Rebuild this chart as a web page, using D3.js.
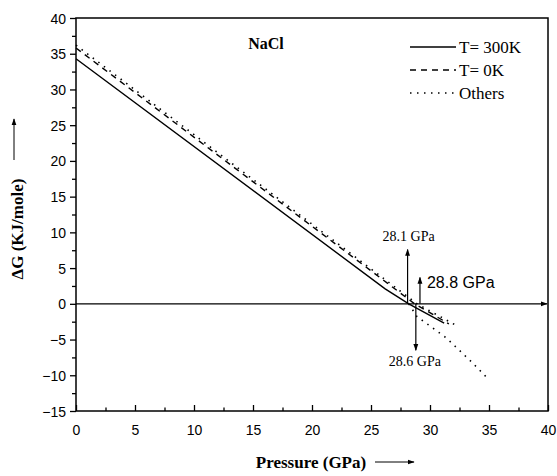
<!DOCTYPE html>
<html>
<head>
<meta charset="utf-8">
<script src="https://cdn.jsdelivr.net/npm/d3@7"></script>
<style>
  body { margin: 0; background: #fff; }
  text { fill: #000; }
</style>
</head>
<body>
<div id="chart"></div>
<script>
// Data (pressure in GPa, dG in KJ/mole)
const solidT300 = [[0, 34.3], [26.2, 2.1], [28.2, 0], [31.2, -2.7]];
const dashedT0 = [[0, 35.8], [28.7, 0], [31.6, -2.8]];
const dottedOthers = [[0, 36.2], [28.9, 0], [32.2, -3.0]];
const dottedSteep = [[28.2, 0], [28.9, -1.8], [30.0, -3.1], [31.4, -4.8], [32.1, -5.9],
  [32.8, -7.0], [33.5, -8.1], [34.1, -9.1], [34.8, -10.3]];

const xTicks = [0, 5, 10, 15, 20, 25, 30, 35, 40];
const yTicks = [40, 35, 30, 25, 20, 15, 10, 5, 0, -5, -10, -15];
const legendLabels = ['T= 300K', 'T= 0K', 'Others'];

// Vertical annotation arrows: x position, arrow tip value, label
const marks = [
  { x: 28.1, to: 7.6, label: '28.1 GPa' },
  { x: 28.8, to: -6.5, label: '28.6 GPa' },
  { x: 29.15, to: 3.7, label: '28.8 GPa' }
];

const W = 557, H = 476;
const m = { left: 76, right: 548, top: 18, bottom: 411 };

const svg = d3.select('#chart').append('svg')
  .attr('width', W).attr('height', H);

const defs = svg.append('defs');
defs.append('marker')
  .attr('id', 'head')
  .attr('viewBox', '0 0 10 10')
  .attr('refX', 9).attr('refY', 5)
  .attr('markerWidth', 7).attr('markerHeight', 7)
  .attr('markerUnits', 'userSpaceOnUse')
  .attr('orient', 'auto')
  .append('path').attr('d', 'M0,1.5 L10,5 L0,8.5 Z').attr('fill', '#000');

const x = d3.scaleLinear().domain([0, 40]).range([m.left, m.right]);
const y = d3.scaleLinear().domain([-15, 40]).range([m.bottom, m.top]);

const serif = '"Liberation Serif", "Times New Roman", serif';
const sans = '"Liberation Sans", Arial, sans-serif';

// Axes (ticks drawn by d3 axis, then styled)
const xAxis = svg.append('g')
  .attr('transform', `translate(0,${m.bottom})`)
  .call(d3.axisBottom(x).tickValues(xTicks).tickSize(-6).tickPadding(14));
const xMinor = svg.append('g')
  .attr('transform', `translate(0,${m.bottom})`)
  .call(d3.axisBottom(x).tickValues(d3.range(2.5, 40, 5)).tickSize(-3.5).tickFormat(''));

const yAxis = svg.append('g')
  .attr('transform', `translate(${m.left},0)`)
  .call(d3.axisLeft(y).tickValues(yTicks).tickSize(6).tickPadding(4));
const yMinor = svg.append('g')
  .attr('transform', `translate(${m.left},0)`)
  .call(d3.axisLeft(y).tickValues(d3.range(-12.5, 40, 5)).tickSize(4).tickFormat(''));

[xAxis, xMinor, yAxis, yMinor].forEach((g) => {
  g.select('.domain').remove();
  g.selectAll('line').attr('stroke', '#000').attr('stroke-width', 1.3);
  g.selectAll('text').attr('font-family', sans).attr('font-size', 14).attr('fill', '#000');
});
yAxis.selectAll('text').attr('dy', '0.36em');

// frame
svg.append('rect')
  .attr('x', m.left).attr('y', m.top)
  .attr('width', m.right - m.left).attr('height', m.bottom - m.top)
  .attr('fill', 'none').attr('stroke', '#000').attr('stroke-width', 1.5);

// zero line with arrow
svg.append('line')
  .attr('x1', x(0)).attr('x2', x(40) - 1)
  .attr('y1', y(0)).attr('y2', y(0))
  .attr('stroke', '#000').attr('stroke-width', 1.2)
  .attr('marker-end', 'url(#head)');

const line = d3.line().x((d) => x(d[0])).y((d) => y(d[1]));

svg.append('path').datum(solidT300)
  .attr('d', line).attr('fill', 'none').attr('stroke', '#000').attr('stroke-width', 1.4);
svg.append('path').datum(dashedT0)
  .attr('d', line).attr('fill', 'none').attr('stroke', '#000').attr('stroke-width', 1.4)
  .attr('stroke-dasharray', '6,5');
svg.append('path').datum(dottedOthers)
  .attr('d', line).attr('fill', 'none').attr('stroke', '#000').attr('stroke-width', 1.6)
  .attr('stroke-dasharray', '1.5,5.5');
svg.append('path').datum(dottedSteep)
  .attr('d', line).attr('fill', 'none').attr('stroke', '#000').attr('stroke-width', 1.6)
  .attr('stroke-dasharray', '1.5,5.5');

// annotation arrows
marks.forEach((mk) => {
  svg.append('line')
    .attr('x1', x(mk.x)).attr('x2', x(mk.x))
    .attr('y1', y(0)).attr('y2', y(mk.to))
    .attr('stroke', '#000').attr('stroke-width', 1.2)
    .attr('marker-end', 'url(#head)');
});
svg.append('text')
  .attr('x', x(28.1) + 1).attr('y', 241)
  .attr('text-anchor', 'middle')
  .attr('font-family', serif).attr('font-size', 14)
  .text(marks[0].label);
svg.append('text')
  .attr('x', x(28.8) - 1).attr('y', 366)
  .attr('text-anchor', 'middle')
  .attr('font-family', serif).attr('font-size', 14)
  .text(marks[1].label);
svg.append('text')
  .attr('x', x(29.15) + 7).attr('y', 288)
  .attr('font-family', sans).attr('font-size', 16)
  .text(marks[2].label);

// title inside
svg.append('text')
  .attr('x', 266).attr('y', 49)
  .attr('text-anchor', 'middle')
  .attr('font-family', serif).attr('font-size', 16).attr('font-weight', 'bold')
  .text('NaCl');

// legend
const dashes = [null, '6,5', '1.5,5.5'];
legendLabels.forEach((lab, i) => {
  const ly = 47 + i * 23;
  svg.append('line')
    .attr('x1', 410).attr('x2', 456).attr('y1', ly).attr('y2', ly)
    .attr('stroke', '#000').attr('stroke-width', i === 2 ? 1.6 : 1.4)
    .attr('stroke-dasharray', dashes[i]);
  svg.append('text')
    .attr('x', 459).attr('y', ly + 6)
    .attr('font-family', serif).attr('font-size', 17)
    .text(lab);
});

// axis titles
svg.append('text')
  .attr('x', 311).attr('y', 468)
  .attr('text-anchor', 'middle')
  .attr('font-family', serif).attr('font-size', 17).attr('font-weight', 'bold')
  .text('Pressure (GPa)');
svg.append('line')
  .attr('x1', 375).attr('x2', 414).attr('y1', 462).attr('y2', 462)
  .attr('stroke', '#000').attr('stroke-width', 1)
  .attr('marker-end', 'url(#head)');

svg.append('text')
  .attr('transform', 'translate(23,229) rotate(-90)')
  .attr('text-anchor', 'middle')
  .attr('font-family', serif).attr('font-size', 17).attr('font-weight', 'bold')
  .text('\u0394G (KJ/mole)');
svg.append('line')
  .attr('x1', 14).attr('x2', 14).attr('y1', 160).attr('y2', 119)
  .attr('stroke', '#000').attr('stroke-width', 1)
  .attr('marker-end', 'url(#head)');
</script>
</body>
</html>
